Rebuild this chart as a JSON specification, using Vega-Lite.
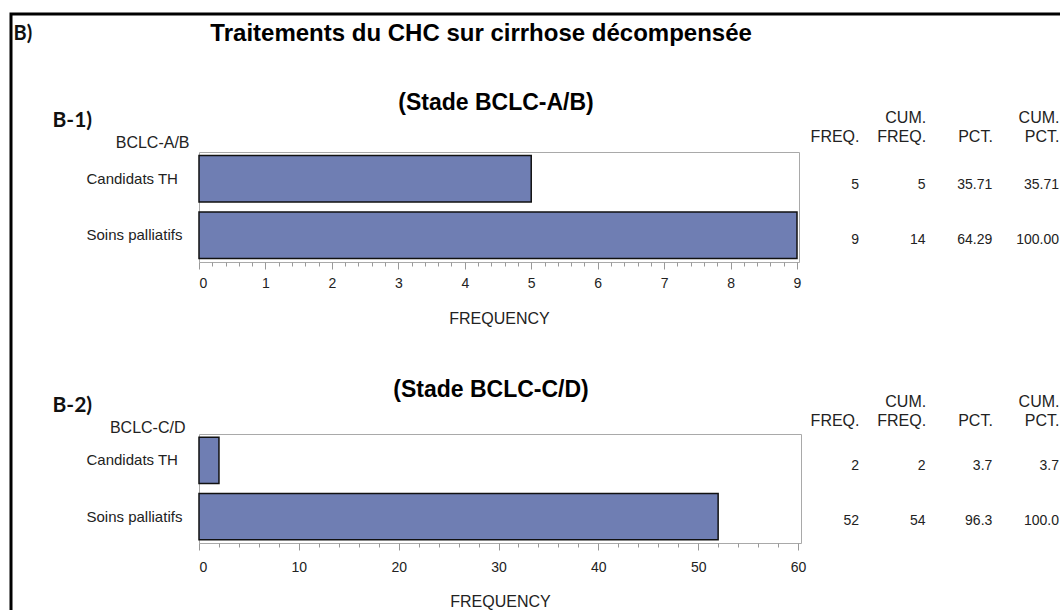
{
  "$schema": "https://vega.github.io/schema/vega-lite/v6.json",
  "background": "white",
  "padding": {"left": 9, "top": 11, "right": 0, "bottom": 0},
  "config": {
    "font": "Liberation Sans",
    "view": {"stroke": "#A9A9A9", "strokeWidth": 1},
    "axis": {"labelFont": "Liberation Sans", "titleFont": "Liberation Sans", "labelColor": "#222", "titleColor": "#222", "grid": false}
  },
  "datasets": {
    "cadre": [{}],
    "ab": [
      {"traitement": "Candidats TH", "freq": 5},
      {"traitement": "Soins palliatifs", "freq": 9}
    ],
    "cd": [
      {"traitement": "Candidats TH", "freq": 2},
      {"traitement": "Soins palliatifs", "freq": 52}
    ],
    "ab_table": [
      {"traitement": "Candidats TH", "colonne": "FREQ.", "valeur": "5"},
      {"traitement": "Candidats TH", "colonne": "CUM. FREQ.", "valeur": "5"},
      {"traitement": "Candidats TH", "colonne": "PCT.", "valeur": "35.71"},
      {"traitement": "Candidats TH", "colonne": "CUM. PCT.", "valeur": "35.71"},
      {"traitement": "Soins palliatifs", "colonne": "FREQ.", "valeur": "9"},
      {"traitement": "Soins palliatifs", "colonne": "CUM. FREQ.", "valeur": "14"},
      {"traitement": "Soins palliatifs", "colonne": "PCT.", "valeur": "64.29"},
      {"traitement": "Soins palliatifs", "colonne": "CUM. PCT.", "valeur": "100.00"}
    ],
    "cd_table": [
      {"traitement": "Candidats TH", "colonne": "FREQ.", "valeur": "2"},
      {"traitement": "Candidats TH", "colonne": "CUM. FREQ.", "valeur": "2"},
      {"traitement": "Candidats TH", "colonne": "PCT.", "valeur": "3.7"},
      {"traitement": "Candidats TH", "colonne": "CUM. PCT.", "valeur": "3.7"},
      {"traitement": "Soins palliatifs", "colonne": "FREQ.", "valeur": "52"},
      {"traitement": "Soins palliatifs", "colonne": "CUM. FREQ.", "valeur": "54"},
      {"traitement": "Soins palliatifs", "colonne": "PCT.", "valeur": "96.3"},
      {"traitement": "Soins palliatifs", "colonne": "CUM. PCT.", "valeur": "100.0"}
    ]
  },
  "spacing": 188,
  "bounds": "flush",
  "hconcat": [
    {
      "vconcat": [
        {
          "width": 1053,
          "height": 601,
          "view": {"stroke": "#000", "strokeWidth": 3},
          "data": {"name": "cadre"},
          "mark": {"type": "point", "opacity": 0},
          "encoding": {}
        }
      ]
    },
    {
      "spacing": 137,
      "bounds": "flush",
      "vconcat": [
        {
          "width": 1,
          "height": 1,
          "view": {"stroke": null},
          "data": {"name": "cadre"},
          "mark": {"type": "point", "opacity": 0},
          "encoding": {}
        },
        {
          "title": {"text": "B)", "anchor": "start", "frame": "bounds", "font": "Lato", "fontSize": 20, "fontWeight": "bold", "color": "#111", "dx": -39, "dy": 26},
          "vconcat": [
            {
              "title": {"text": "Traitements du CHC sur cirrhose décompensée", "anchor": "middle", "font": "Liberation Sans", "fontSize": 24, "fontWeight": "bold", "color": "#000", "dy": -42, "dx": -110},
              "spacing": 282,
              "bounds": "flush",
              "vconcat": [
                {
                  "title": {"text": "B-1)", "anchor": "start", "frame": "bounds", "font": "Lato", "fontSize": 21, "fontWeight": "bold", "color": "#111", "dy": 43, "dx": -33},
                  "spacing": 60,
                  "bounds": "flush",
                  "hconcat": [
                    {
                      "title": {"text": "(Stade BCLC-A/B)", "anchor": "middle", "font": "Liberation Sans", "fontSize": 23, "fontWeight": "bold", "color": "#000", "offset": 19, "dx": -3},
                      "width": 600,
                      "height": 110,
                      "data": {"name": "ab"},
                      "layer": [
                        {
                          "mark": {"type": "bar", "fill": "#6F7EB3", "stroke": "#111", "strokeWidth": 1.5},
                          "encoding": {
                            "y": {"field": "traitement", "type": "nominal", "sort": ["Candidats TH", "Soins palliatifs"], "scale": {"paddingInner": 0.18, "paddingOuter": 0.06},
                              "axis": {"title": "BCLC-A/B", "titleAngle": 0, "titleAlign": "right", "titleBaseline": "middle", "titleX": -10, "titleY": -10, "titleFontSize": 16, "titleFontWeight": "normal", "labelAlign": "left", "labelPadding": 113, "ticks": false, "domain": false, "labelFontSize": 15}},
                            "x": {"field": "freq", "type": "quantitative", "scale": {"domain": [0, 9.03], "nice": false},
                              "axis": {"values": [0, 1, 2, 3, 4, 5, 6, 7, 8, 9], "title": "FREQUENCY", "titleFontSize": 16, "titleFontWeight": "normal", "titlePadding": 20, "labelFontSize": 14, "labelPadding": 7, "tickSize": 7, "tickColor": "#999", "domain": false}}
                          }
                        },
                        {
                          "mark": {"type": "bar", "opacity": 0},
                          "encoding": {
                            "x": {"field": "freq", "type": "quantitative",
                              "axis": {"orient": "bottom", "values": [0.2, 0.4, 0.6, 0.8, 1.2, 1.4, 1.6, 1.8, 2.2, 2.4, 2.6, 2.8, 3.2, 3.4, 3.6, 3.8, 4.2, 4.4, 4.6, 4.8, 5.2, 5.4, 5.6, 5.8, 6.2, 6.4, 6.6, 6.8, 7.2, 7.4, 7.6, 7.8, 8.2, 8.4, 8.6, 8.8], "labels": false, "title": null, "tickSize": 4, "tickColor": "#999", "domain": false}}
                          }
                        }
                      ],
                      "resolve": {"axis": {"x": "independent"}}
                    },
                    {
                      "width": 200,
                      "height": 110,
                      "view": {"stroke": null},
                      "data": {"name": "ab_table"},
                      "mark": {"type": "text", "align": "right", "baseline": "middle", "fontSize": 14, "dy": 5, "color": "#222"},
                      "encoding": {
                        "x": {"field": "colonne", "type": "nominal", "sort": ["FREQ.", "CUM. FREQ.", "PCT.", "CUM. PCT."], "scale": {"type": "point", "padding": 0},
                          "axis": {"orient": "top", "title": null, "labelExpr": "indexof(datum.value, ' ') > 0 ? split(datum.value, ' ') : ['', datum.value]", "labelAlign": "right", "labelAngle": 0, "ticks": false, "domain": false, "labelFontSize": 16, "labelLineHeight": 19, "labelPadding": 27}},
                        "y": {"field": "traitement", "type": "nominal", "sort": ["Candidats TH", "Soins palliatifs"], "scale": {"paddingInner": 0.18, "paddingOuter": 0.06}, "axis": null},
                        "text": {"field": "valeur", "type": "nominal"}
                      }
                    }
                  ]
                },
                {
                  "title": {"text": "B-2)", "anchor": "start", "frame": "bounds", "font": "Lato", "fontSize": 21, "fontWeight": "bold", "color": "#111", "dy": 41, "dx": -33},
                  "spacing": 58,
                  "bounds": "flush",
                  "hconcat": [
                    {
                      "title": {"text": "(Stade BCLC-C/D)", "anchor": "middle", "font": "Liberation Sans", "fontSize": 23, "fontWeight": "bold", "color": "#000", "offset": 17, "dx": -9},
                      "width": 602,
                      "height": 109,
                      "data": {"name": "cd"},
                      "layer": [
                        {
                          "mark": {"type": "bar", "fill": "#6F7EB3", "stroke": "#111", "strokeWidth": 1.5},
                          "encoding": {
                            "y": {"field": "traitement", "type": "nominal", "sort": ["Candidats TH", "Soins palliatifs"], "scale": {"paddingInner": 0.18, "paddingOuter": 0.06},
                              "axis": {"title": "BCLC-C/D", "titleAngle": 0, "titleAlign": "right", "titleBaseline": "middle", "titleX": -14, "titleY": -7, "titleFontSize": 16, "titleFontWeight": "normal", "labelAlign": "left", "labelPadding": 113, "ticks": false, "domain": false, "labelFontSize": 15}},
                            "x": {"field": "freq", "type": "quantitative", "scale": {"domain": [0, 60.3], "nice": false},
                              "axis": {"values": [0, 10, 20, 30, 40, 50, 60], "title": "FREQUENCY", "titleFontSize": 16, "titleFontWeight": "normal", "titlePadding": 19, "labelFontSize": 14, "labelPadding": 10, "tickSize": 7, "tickColor": "#999", "domain": false}}
                          }
                        },
                        {
                          "mark": {"type": "bar", "opacity": 0},
                          "encoding": {
                            "x": {"field": "freq", "type": "quantitative",
                              "axis": {"orient": "bottom", "values": [2, 4, 6, 8, 12, 14, 16, 18, 22, 24, 26, 28, 32, 34, 36, 38, 42, 44, 46, 48, 52, 54, 56, 58], "labels": false, "title": null, "tickSize": 4, "tickColor": "#999", "domain": false}}
                          }
                        }
                      ],
                      "resolve": {"axis": {"x": "independent"}}
                    },
                    {
                      "width": 200,
                      "height": 109,
                      "view": {"stroke": null},
                      "data": {"name": "cd_table"},
                      "mark": {"type": "text", "align": "right", "baseline": "middle", "fontSize": 14, "dy": 5, "color": "#222"},
                      "encoding": {
                        "x": {"field": "colonne", "type": "nominal", "sort": ["FREQ.", "CUM. FREQ.", "PCT.", "CUM. PCT."], "scale": {"type": "point", "padding": 0},
                          "axis": {"orient": "top", "title": null, "labelExpr": "indexof(datum.value, ' ') > 0 ? split(datum.value, ' ') : ['', datum.value]", "labelAlign": "right", "labelAngle": 0, "ticks": false, "domain": false, "labelFontSize": 16, "labelLineHeight": 19, "labelPadding": 25}},
                        "y": {"field": "traitement", "type": "nominal", "sort": ["Candidats TH", "Soins palliatifs"], "scale": {"paddingInner": 0.18, "paddingOuter": 0.06}, "axis": null},
                        "text": {"field": "valeur", "type": "nominal"}
                      }
                    }
                  ]
                }
              ]
            }
          ]
        }
      ]
    }
  ]
}
